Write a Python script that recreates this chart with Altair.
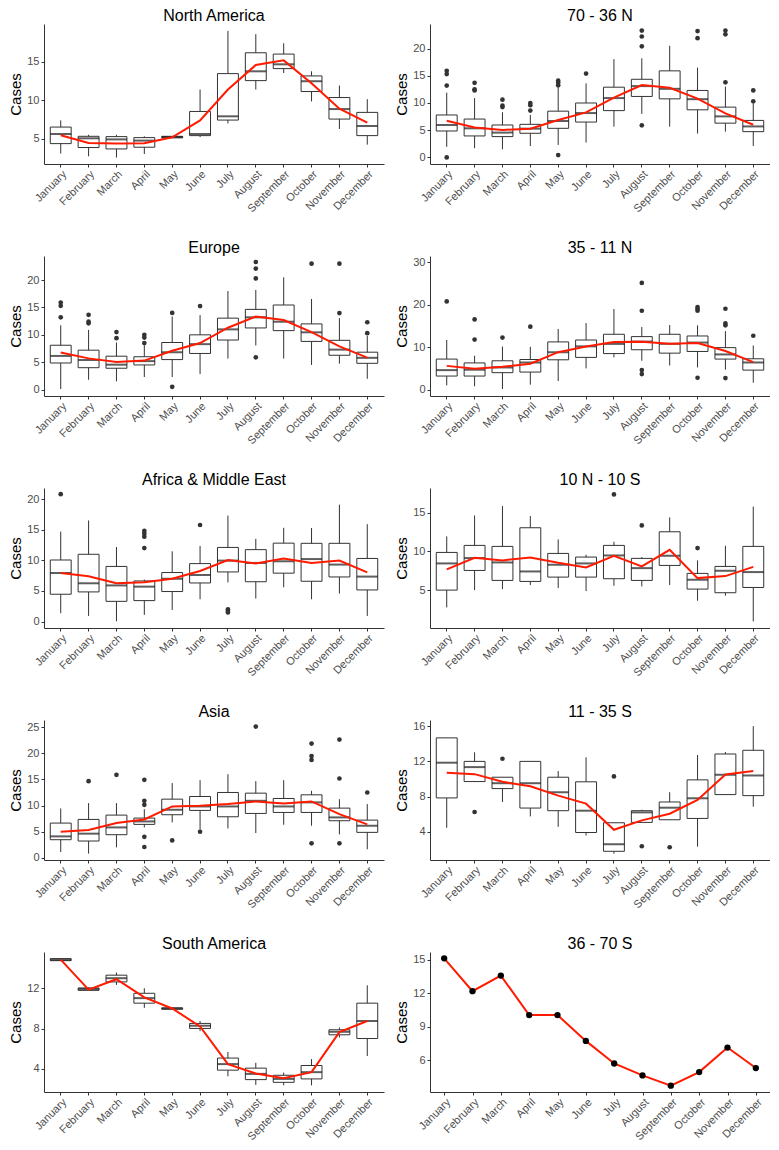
import altair as alt
import pandas as pd

MONTHS = ["January", "February", "March", "April", "May", "June", "July",
          "August", "September", "October", "November", "December"]

# ---- North America: [low whisker, Q1, median, Q3, high whisker] per month
NA_BOX = [[3.06, 4.35, 5.6, 6.5, 7.37], [2.7, 3.84, 5.04, 5.3, 5.5], [2.54, 3.66, 4.9, 5.26, 5.5],
          [3.0, 3.88, 4.74, 5.13, 5.3], [5.1, 5.1, 5.2, 5.3, 5.3], [5.2, 5.39, 5.6, 8.53, 11.38],
          [6.98, 7.41, 7.9, 13.45, 19.0], [11.38, 12.54, 13.75, 16.16, 18.58], [13.53, 14.1, 14.66, 15.99, 17.4],
          [9.83, 11.12, 12.46, 13.15, 13.75], [6.25, 7.54, 8.84, 10.34, 11.9], [4.22, 5.39, 6.64, 8.41, 10.13]]
NA_MEAN = [5.43, 4.44, 4.35, 4.4, 5.17, 7.37, 11.38, 14.57, 15.17, 12.2, 8.88, 7.07]
NA_OUT = []

# ---- 70 - 36 N
N70_BOX = [[1.95, 4.86, 5.96, 7.8, 11.9], [1.7, 3.95, 5.35, 7.05, 10.9], [1.5, 3.83, 4.56, 5.96, 8.3],
           [2.1, 4.44, 5.29, 6.08, 7.8], [2.3, 5.35, 6.69, 8.5, 12.9], [2.74, 6.5, 8.15, 10.0, 13.6],
           [5.65, 8.6, 10.9, 12.9, 18.05], [8.0, 11.2, 13.1, 14.35, 18.2], [5.65, 10.76, 12.6, 15.9, 20.5],
           [4.4, 8.75, 10.7, 12.3, 16.5], [4.74, 6.3, 7.54, 9.24, 13.0], [2.1, 4.74, 5.7, 6.8, 9.9]]
N70_MEAN = [6.75, 5.5, 5.05, 5.29, 6.87, 8.27, 11.0, 13.3, 12.8, 10.8, 8.1, 6.0]
N70_OUT = [[1, 15.9], [1, 15.3], [1, 13.2], [1, 0.0], [2, 13.7], [2, 12.5], [2, 12.3],
           [3, 10.6], [3, 9.5], [3, 9.25], [4, 10.0], [4, 9.6], [4, 8.6],
           [5, 14.1], [5, 13.7], [5, 13.25], [5, 0.43], [6, 15.4],
           [8, 23.3], [8, 22.2], [8, 20.4], [8, 5.9], [10, 23.2], [10, 21.9],
           [11, 23.3], [11, 22.6], [11, 13.8], [12, 12.3], [12, 10.3]]

# ---- Europe
EU_BOX = [[0.1, 4.86, 6.15, 8.1, 11.75], [1.8, 4.0, 5.4, 7.2, 10.9], [1.5, 3.9, 4.55, 6.1, 8.6],
          [2.3, 4.5, 5.2, 6.0, 8.1], [2.3, 5.48, 6.83, 8.6, 13.35], [2.83, 6.6, 8.3, 10.0, 13.6],
          [5.66, 9.05, 11.0, 13.05, 18.0], [8.06, 11.26, 13.2, 14.65, 18.2], [5.66, 10.77, 12.4, 15.45, 20.5],
          [4.5, 8.8, 10.46, 12.0, 16.55], [4.74, 6.27, 7.3, 9.0, 13.05], [1.97, 4.8, 5.8, 6.83, 9.8]]
EU_MEAN = [6.77, 5.7, 5.05, 5.3, 7.1, 8.5, 11.3, 13.35, 12.7, 10.5, 7.9, 5.85]
EU_OUT = [[1, 15.9], [1, 15.3], [1, 13.2], [2, 13.66], [2, 12.4], [2, 12.1], [3, 10.5], [3, 9.4],
          [4, 10.0], [4, 9.5], [4, 8.5], [5, 14.0], [5, 0.5], [6, 15.26],
          [8, 23.3], [8, 22.1], [8, 20.3], [8, 5.9], [10, 23.0], [11, 23.0], [11, 13.97],
          [12, 12.3], [12, 10.3]]

# ---- 35 - 11 N
N35_BOX = [[1.0, 3.2, 4.6, 7.2, 11.7], [0.8, 3.2, 4.7, 6.3, 8.0], [0.15, 4.0, 5.23, 6.8, 10.15],
           [1.17, 4.14, 6.4, 7.1, 10.1], [2.03, 7.03, 8.83, 11.25, 14.3], [5.0, 7.6, 10.2, 11.7, 15.7],
           [7.6, 8.5, 10.78, 13.05, 19.0], [6.8, 9.4, 11.33, 12.5, 14.77], [5.7, 8.6, 10.8, 13.05, 15.23],
           [5.23, 9.0, 11.1, 12.65, 15.15], [4.7, 7.2, 8.3, 9.9, 13.8], [1.64, 4.6, 6.4, 7.27, 10.4]]
N35_MEAN = [5.6, 4.9, 5.4, 6.1, 8.83, 10.16, 11.25, 11.3, 10.8, 11.0, 9.1, 6.5]
N35_OUT = [[1, 20.8], [2, 16.56], [2, 11.8], [3, 12.27], [4, 14.84],
           [8, 25.15], [8, 18.6], [8, 4.6], [8, 3.67], [10, 19.45], [10, 19.0], [10, 18.6], [10, 2.8],
           [11, 19.06], [11, 15.6], [11, 15.15], [11, 2.73], [12, 12.7]]

# ---- Africa & Middle East
AF_BOX = [[1.36, 4.46, 7.93, 10.05, 14.7], [0.92, 4.84, 6.25, 10.98, 16.5], [0.05, 3.3, 5.9, 9.0, 12.17],
          [1.09, 3.42, 5.7, 6.63, 6.85], [1.9, 4.9, 7.0, 8.0, 11.47], [3.64, 6.3, 7.6, 9.46, 12.34],
          [6.4, 8.1, 9.95, 12.1, 17.3], [3.75, 6.5, 9.57, 11.74, 13.5], [5.6, 7.9, 9.84, 12.8, 15.3],
          [3.64, 6.58, 10.2, 12.77, 15.27], [4.57, 7.28, 9.3, 12.77, 19.08], [0.92, 5.16, 7.34, 10.3, 15.9]]
AF_MEAN = [7.93, 7.4, 6.25, 6.4, 7.0, 8.26, 10.05, 9.46, 10.3, 9.57, 9.95, 8.04]
AF_OUT = [[1, 20.8], [4, 14.8], [4, 14.35], [4, 13.86], [4, 12.0], [6, 15.76],
          [7, 2.0], [7, 1.74], [7, 1.5]]

# ---- 10 N - 10 S
EQ_BOX = [[2.76, 5.0, 8.45, 9.87, 11.94], [5.0, 7.54, 9.14, 10.78, 14.65], [5.13, 6.25, 8.58, 10.65, 15.86],
          [5.65, 6.12, 7.41, 13.06, 14.57], [5.26, 6.68, 8.28, 9.74, 11.55], [4.87, 6.68, 8.45, 9.27, 9.57],
          [5.56, 6.47, 9.48, 10.78, 11.25], [5.47, 6.25, 7.84, 9.1, 9.27], [5.65, 8.19, 9.44, 12.54, 14.4],
          [3.62, 5.13, 6.34, 7.16, 8.84], [4.27, 4.66, 7.5, 8.06, 10.73], [0.95, 5.34, 7.33, 10.65, 15.8]]
EQ_MEAN = [7.67, 9.18, 8.84, 9.22, 8.53, 7.93, 9.44, 8.06, 10.2, 6.55, 6.81, 8.0]
EQ_OUT = [[7, 17.37], [8, 13.36], [10, 10.43]]

# ---- Asia
AS_BOX = [[1.08, 3.44, 4.08, 6.63, 9.44], [0.77, 3.19, 4.6, 7.33, 10.46], [1.98, 4.4, 5.8, 8.16, 10.46],
          [5.8, 6.38, 6.95, 7.59, 9.3], [6.76, 8.23, 9.18, 11.22, 14.3], [5.36, 9.06, 9.82, 11.73, 14.86],
          [5.6, 7.84, 9.82, 12.5, 16.0], [4.72, 8.48, 10.9, 12.37, 14.67], [6.31, 8.67, 9.82, 11.35, 14.86],
          [6.12, 8.67, 10.6, 12.05, 12.82], [4.46, 7.08, 7.72, 9.5, 11.22], [1.6, 4.85, 6.12, 7.2, 10.27]]
AS_MEAN = [4.97, 5.3, 6.63, 7.33, 9.82, 9.95, 10.27, 10.78, 10.4, 10.78, 8.35, 6.38]
AS_OUT = [[2, 14.67], [3, 15.88], [4, 14.92], [4, 10.9], [4, 10.14], [4, 4.0], [4, 2.04],
          [5, 3.3], [6, 4.97], [8, 25.13], [10, 21.87], [10, 19.5], [10, 18.75], [10, 2.74],
          [11, 22.64], [11, 15.18], [11, 2.74], [12, 12.5]]

# ---- 11 - 35 S
S11_BOX = [[4.46, 7.85, 11.85, 14.67, 14.67], [9.71, 9.71, 11.35, 12.0, 13.03], [7.39, 8.91, 9.52, 10.2, 10.2],
           [5.75, 6.7, 9.52, 12.0, 12.0], [4.57, 6.4, 8.5, 10.2, 10.9], [3.58, 3.92, 6.4, 9.68, 12.46],
           [1.52, 1.79, 2.59, 5.03, 5.03], [5.07, 5.07, 6.21, 6.4, 6.51], [5.37, 5.37, 6.74, 7.39, 8.5],
           [2.32, 5.52, 7.81, 9.9, 12.72], [8.23, 8.23, 10.48, 12.84, 13.07], [6.86, 8.11, 10.4, 13.26, 16.0]]
S11_MEAN = [10.7, 10.55, 9.68, 9.18, 8.11, 7.2, 4.23, 5.3, 6.06, 7.62, 10.51, 10.9]
S11_OUT = [[2, 6.25], [3, 12.3], [7, 10.29], [8, 2.36], [9, 2.25]]

# ---- South America
SA_BOX = [[14.7, 14.74, 14.84, 14.94, 14.97], [11.73, 11.79, 11.93, 12.03, 12.09], [12.33, 12.63, 13.0, 13.3, 13.56],
          [10.05, 10.52, 11.02, 11.5, 12.0], [9.92, 9.92, 9.99, 10.05, 10.05], [7.75, 8.01, 8.28, 8.51, 8.75],
          [3.26, 3.87, 4.47, 5.07, 5.67], [2.4, 2.93, 3.5, 4.07, 4.6], [2.36, 2.66, 3.0, 3.36, 3.63],
          [2.36, 3.0, 3.67, 4.33, 4.97], [7.11, 7.38, 7.68, 7.88, 8.11], [5.27, 7.01, 8.75, 10.52, 12.29]]
SA_MEAN = [14.84, 11.86, 12.9, 11.1, 9.99, 8.21, 4.47, 3.53, 3.06, 3.67, 7.65, 8.75]
SA_OUT = []

# ---- 36 - 70 S (single value per month)
S36_VAL = [15.14, 12.19, 13.59, 10.05, 10.05, 7.73, 5.7, 4.63, 3.71, 4.93, 7.13, 5.29]

W = 340
H = 140
STEP = W / 12.2
BOXW = STEP * 0.75
FONT = "Liberation Sans"


def xenc():
    return alt.X("month:N", sort=MONTHS, title=None,
                 scale=alt.Scale(paddingInner=0.25, paddingOuter=0.225),
                 axis=alt.Axis(labelAngle=315, labelAlign="right", labelBaseline="top",
                               labelPadding=1, labelOverlap=False))


def yenc(field, domain, ticks):
    return alt.Y(field, title="Cases",
                 scale=alt.Scale(domain=domain, nice=False, zero=False),
                 axis=alt.Axis(values=ticks, titlePadding=3, minExtent=18, maxExtent=18))


def panel(title, box=None, mean=None, out=None, domain=None, ticks=None, single=None):
    ttl = alt.TitleParams(title, fontSize=16, font=FONT, fontWeight="normal",
                          anchor="middle", color="black", offset=0)
    if single is not None:
        df = pd.DataFrame({"month": MONTHS, "val": single})
        base = alt.Chart(df)
        line = base.mark_line(color="#ff1a00", strokeWidth=2).encode(
            x=xenc(), y=yenc("val:Q", domain, ticks))
        pts = base.mark_circle(size=40, color="black", opacity=1).encode(
            x=xenc(), y=yenc("val:Q", domain, ticks))
        return alt.layer(line, pts).properties(width=W, height=H, title=ttl)

    df = pd.DataFrame(box, columns=["lo", "q1", "med", "q3", "hi"])
    df["month"] = MONTHS
    df["mean"] = mean
    base = alt.Chart(df)
    whisk = base.mark_rule(color="#333333", strokeWidth=1).encode(
        x=xenc(), y=yenc("lo:Q", domain, ticks), y2="hi:Q")
    boxes = base.mark_bar(fill="white", stroke="#333333", strokeWidth=1).encode(
        x=xenc(), y=yenc("q1:Q", domain, ticks), y2="q3:Q")
    med = base.mark_tick(color="#1a1a1a", thickness=2, size=BOXW).encode(
        x=xenc(), y=yenc("med:Q", domain, ticks))
    layers = [whisk, boxes, med]
    if out:
        odf = pd.DataFrame(out, columns=["m", "value"])
        odf["month"] = [MONTHS[i - 1] for i in odf["m"]]
        layers.append(alt.Chart(odf).mark_circle(size=22, color="#333333", opacity=1).encode(
            x=xenc(), y=yenc("value:Q", domain, ticks)))
    meanl = base.mark_line(color="#ff1a00", strokeWidth=2).encode(
        x=xenc(), y=yenc("mean:Q", domain, ticks))
    layers.append(meanl)
    return alt.layer(*layers).properties(width=W, height=H, title=ttl)


p1 = panel("North America", NA_BOX, NA_MEAN, NA_OUT, [1.7, 19.9], [5, 10, 15])
p2 = panel("70 - 36 N", N70_BOX, N70_MEAN, N70_OUT, [-1.2, 24.5], [0, 5, 10, 15, 20])
p3 = panel("Europe", EU_BOX, EU_MEAN, EU_OUT, [-1.17, 24.4], [0, 5, 10, 15, 20])
p4 = panel("35 - 11 N", N35_BOX, N35_MEAN, N35_OUT, [-1.5, 31.5], [0, 10, 20, 30])
p5 = panel("Africa & Middle East", AF_BOX, AF_MEAN, AF_OUT, [-1.05, 21.8], [0, 5, 10, 15, 20])
p6 = panel("10 N - 10 S", EQ_BOX, EQ_MEAN, EQ_OUT, [0.1, 18.2], [5, 10, 15])
p7 = panel("Asia", AS_BOX, AS_MEAN, AS_OUT, [-0.45, 26.4], [0, 5, 10, 15, 20, 25])
p8 = panel("11 - 35 S", S11_BOX, S11_MEAN, S11_OUT, [0.8, 16.7], [4, 8, 12, 16])
p9 = panel("South America", SA_BOX, SA_MEAN, SA_OUT, [1.7, 15.6], [4, 8, 12])
p10 = panel("36 - 70 S", single=S36_VAL, domain=[3.14, 15.71], ticks=[6, 9, 12, 15])

rows = [alt.hconcat(a, b, spacing=10) for a, b in [(p1, p2), (p3, p4), (p5, p6), (p7, p8), (p9, p10)]]
chart = alt.vconcat(*rows, spacing=26).properties(padding=0).configure_view(stroke=None).configure_axis(
    grid=False, domainColor="#333333", tickColor="#333333", domainWidth=1, tickWidth=1, tickSize=3,
    labelColor="#4d4d4d", labelFontSize=11, labelFont=FONT,
    titleFont=FONT, titleFontSize=15, titleFontWeight="normal", titleColor="black",
).configure_title(font=FONT)

chart.save("out.html", embed_options={"renderer": "svg", "actions": False})
